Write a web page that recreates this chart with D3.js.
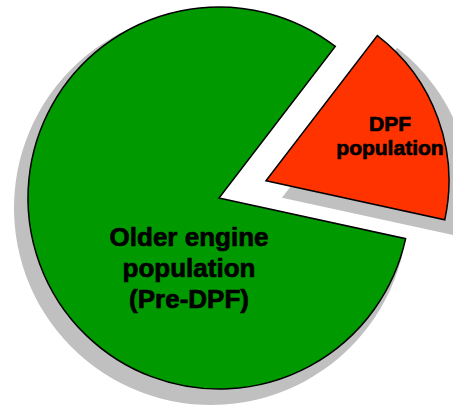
<!DOCTYPE html>
<html>
<head>
<meta charset="utf-8">
<script src="https://cdn.jsdelivr.net/npm/d3@7"></script>
<style>
  html, body { margin: 0; padding: 0; background: #ffffff; }
  svg { display: block; }
</style>
</head>
<body>
<svg id="chart" width="453" height="407"></svg>
<script>
// ---- data ----
const categories = ["DPF population", "Older engine population (Pre-DPF)"];
const values = [18, 82];
const labelLines = [["DPF", "population"], ["Older engine", "population", "(Pre-DPF)"]];
const colors = ["#ff3300", "#009900"];

// ---- layout ----
const W = 453, H = 407;
const cx = 219, cy = 198;
const radius = 191;
const explodedRadius = 183;
const explodeDist = 50;
const startDeg = 37.5;
const shadowColor = "#c0c0c0";
// per-slice shadow: offset and radius growth
const shadows = [{dx: 16, dy: 17, grow: 6}, {dx: -8, dy: 10, grow: 6}];
const fontSizes = [21, 26];
const lineGaps = [24, 31];

const svg = d3.select("#chart");
const g = svg.append("g").attr("transform", `translate(${cx},${cy})`);

const start = startDeg * Math.PI / 180;
const pie = d3.pie().sort(null).value(d => d).startAngle(start).endAngle(start + 2 * Math.PI);
const arcs = pie(values);

function sliceOffset(i, a) {
  if (i !== 0) return [0, 0];
  const mid = (a.startAngle + a.endAngle) / 2;
  return [explodeDist * Math.sin(mid), -explodeDist * Math.cos(mid)];
}
function sliceR(i) { return i === 0 ? explodedRadius : radius; }

// shadows first
arcs.forEach((a, i) => {
  const [ox, oy] = sliceOffset(i, a);
  const s = shadows[i];
  const arcGen = d3.arc().innerRadius(0).outerRadius(sliceR(i) + s.grow);
  g.append("path")
    .attr("d", arcGen(a))
    .attr("transform", `translate(${ox + s.dx},${oy + s.dy})`)
    .attr("fill", shadowColor);
});

// slices
arcs.forEach((a, i) => {
  const [ox, oy] = sliceOffset(i, a);
  const arcGen = d3.arc().innerRadius(0).outerRadius(sliceR(i));
  g.append("path")
    .attr("d", arcGen(a))
    .attr("transform", `translate(${ox},${oy})`)
    .attr("fill", colors[i])
    .attr("stroke", "#000")
    .attr("stroke-width", 1.5)
    .attr("stroke-linejoin", "miter");
});

// labels
arcs.forEach((a, i) => {
  const [ox, oy] = sliceOffset(i, a);
  let lx, ly;
  if (i === 0) {
    const c = d3.arc().innerRadius(0).outerRadius(2 * 131).centroid(a);
    lx = c[0] + ox + 1; ly = c[1] + oy;
  } else {
    lx = -30; ly = 70;
  }
  const lines = labelLines[i];
  const fs = fontSizes[i], gap = lineGaps[i];
  const t = g.append("text")
    .attr("text-anchor", "middle")
    .attr("font-family", "'Liberation Sans', Arial, sans-serif")
    .attr("font-weight", "bold")
    .attr("font-size", fs)
    .attr("fill", "#000")
    .attr("stroke", "#000")
    .attr("stroke-width", 0.7)
    .attr("stroke-linejoin", "round");
  lines.forEach((ln, k) => {
    t.append("tspan")
      .attr("x", lx)
      .attr("y", ly + (k - (lines.length - 1) / 2) * gap + fs * 0.36)
      .text(ln);
  });
});
</script>
</body>
</html>
